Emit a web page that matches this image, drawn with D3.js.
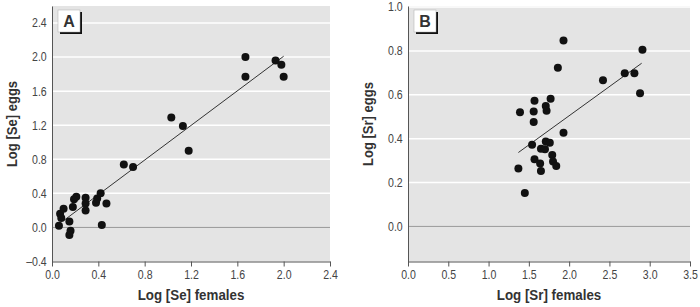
<!DOCTYPE html>
<html>
<head>
<meta charset="utf-8">
<script src="https://cdn.jsdelivr.net/npm/d3@7"></script>
<style>
  body { margin: 0; background: #fff; }
  svg { display: block; }
  .tick text { font-family: "Liberation Sans", Arial, sans-serif; font-size: 12px; fill: #444; }
  .title { font-family: "Liberation Sans", Arial, sans-serif; font-weight: bold; font-size: 14.5px; fill: #333; }
</style>
</head>
<body>
<script>
// panel A: selenium
var seFemales = [0.06, 0.07, 0.08, 0.10, 0.15, 0.16, 0.15, 0.18, 0.19, 0.21, 0.29, 0.29, 0.29, 0.38, 0.39, 0.42, 0.43, 0.47, 0.62, 0.70, 1.03, 1.13, 1.18, 1.67, 1.67, 1.93, 1.98, 2.00];
var seEggs    = [0.02, 0.16, 0.11, 0.22, 0.07, -0.04, -0.09, 0.24, 0.33, 0.36, 0.35, 0.28, 0.20, 0.29, 0.34, 0.40, 0.03, 0.28, 0.74, 0.71, 1.29, 1.19, 0.90, 2.00, 1.77, 1.96, 1.91, 1.77];
var seFitX = [0.10, 2.00];
var seFitY = [0.08, 2.01];
var seXTicks = [0.0, 0.4, 0.8, 1.2, 1.6, 2.0, 2.4];
var seYTicks = [-0.4, 0.0, 0.4, 0.8, 1.2, 1.6, 2.0, 2.4];

// panel B: strontium
var srFemales = [1.93, 1.86, 2.91, 2.88, 2.69, 2.81, 2.42, 1.77, 1.57, 1.56, 1.39, 1.71, 1.72, 1.56, 1.93, 1.54, 1.71, 1.76, 1.65, 1.70, 1.79, 1.80, 1.84, 1.57, 1.64, 1.65, 1.37, 1.45];
var srEggs    = [0.848, 0.723, 0.805, 0.607, 0.698, 0.698, 0.666, 0.582, 0.573, 0.524, 0.520, 0.549, 0.527, 0.476, 0.427, 0.372, 0.387, 0.381, 0.354, 0.352, 0.326, 0.296, 0.276, 0.306, 0.287, 0.253, 0.264, 0.152];
var srFitX = [1.37, 2.90];
var srFitY = [0.337, 0.744];
var srXTicks = [0.0, 0.5, 1.0, 1.5, 2.0, 2.5, 3.0, 3.5];
var srYTicks = [0.0, 0.2, 0.4, 0.6, 0.8, 1.0];

var width = 700;
var height = 307;
var squeeze = 0.88;   // fake a narrow face

var svg = d3.select("body")
    .append("svg")
        .attr("width", width)
        .attr("height", height);

function panel(opt) {
    var x = d3.scaleLinear().domain(opt.xDomain).range(opt.xRange);
    var y = d3.scaleLinear().domain(opt.yDomain).range(opt.yRange);
    var g = svg.append("g");

    g.append("rect")
        .attr("x", opt.xRange[0])
        .attr("y", opt.yRange[1])
        .attr("width", opt.xRange[1] - opt.xRange[0])
        .attr("height", opt.yRange[0] - opt.yRange[1])
        .attr("fill", "#e4e4e4");

    // white gridlines
    g.selectAll(".grid").data(opt.yTicks.filter(function(d) { return d !== 0 && d !== opt.yDomain[0]; }))
        .enter().append("line")
            .attr("x1", opt.xRange[0])
            .attr("x2", opt.xRange[1])
            .attr("y1", function(d) { return y(d); })
            .attr("y2", function(d) { return y(d); })
            .attr("stroke", "#fff")
            .attr("stroke-width", 1.5);

    // zero line
    g.append("line")
        .attr("x1", opt.xRange[0])
        .attr("x2", opt.xRange[1])
        .attr("y1", y(0))
        .attr("y2", y(0))
        .attr("stroke", "#999")
        .attr("stroke-width", 1);

    // fit line
    g.append("line")
        .attr("x1", x(opt.fitX[0]))
        .attr("y1", y(opt.fitY[0]))
        .attr("x2", x(opt.fitX[1]))
        .attr("y2", y(opt.fitY[1]))
        .attr("stroke", "#333")
        .attr("stroke-width", 1);

    g.selectAll(".dot").data(opt.xs)
        .enter().append("circle")
            .attr("cx", function(d) { return x(d); })
            .attr("cy", function(d, i) { return y(opt.ys[i]); })
            .attr("r", 4)
            .attr("fill", "#111");

    var bottomAxis = d3.axisBottom(x)
        .tickValues(opt.xTicks)
        .tickFormat(d3.format(".1f"))
        .tickSize(5)
        .tickSizeOuter(0)
        .tickPadding(4);
    var xa = g.append("g")
        .attr("transform", "translate(0," + opt.yRange[0] + ")")
        .call(bottomAxis);
    xa.selectAll("line, path").attr("stroke", "#555");
    xa.selectAll("text").attr("transform", "scale(" + squeeze + ",1)");

    var leftAxis = d3.axisLeft(y)
        .tickValues(opt.yTicks)
        .tickFormat(function(d) { return d < 0 ? "\u2013" + d3.format(".1f")(-d) : d3.format(".1f")(d); })
        .tickSize(0)
        .tickPadding(6);
    var ya = g.append("g")
        .attr("transform", "translate(" + opt.xRange[0] + ",0)")
        .call(leftAxis);
    ya.select(".domain").attr("stroke", "#555");
    ya.selectAll("text").attr("transform", "scale(" + squeeze + ",1)");

    // panel letter box
    var bx = opt.xRange[0] + 6, by = 10;
    g.append("rect")
        .attr("x", bx + 2).attr("y", by + 2)
        .attr("width", 22).attr("height", 22)
        .attr("fill", "#111");
    g.append("rect")
        .attr("x", bx).attr("y", by)
        .attr("width", 22).attr("height", 22)
        .attr("fill", "#fff")
        .attr("stroke", "#aaa")
        .attr("stroke-width", 0.5);
    g.append("text")
        .attr("class", "title")
        .attr("x", bx + 11)
        .attr("y", by + 17)
        .attr("text-anchor", "middle")
        .style("font-size", "16px")
        .text(opt.letter);

    g.append("text")
        .attr("class", "title")
        .attr("transform", "translate(" + (opt.xRange[0] + opt.xRange[1]) / 2 + ",300) scale(0.92,1)")
        .attr("text-anchor", "middle")
        .text(opt.xLabel);

    g.append("text")
        .attr("class", "title")
        .attr("transform", "translate(" + opt.yLabelX + ",124) rotate(-90) scale(0.9,1)")
        .attr("text-anchor", "middle")
        .text(opt.yLabel);
}

panel({
    xs: seFemales, ys: seEggs, fitX: seFitX, fitY: seFitY,
    xDomain: [0, 2.4], xRange: [52, 330],
    yDomain: [-0.4, 2.6], yRange: [261.5, 6],
    xTicks: seXTicks, yTicks: seYTicks,
    letter: "A", xLabel: "Log [Se] females", yLabel: "Log [Se] eggs", yLabelX: 17
});

panel({
    xs: srFemales, ys: srEggs, fitX: srFitX, fitY: srFitY,
    xDomain: [0, 3.5], xRange: [408, 690],
    yDomain: [-0.16, 1.005], yRange: [261.5, 6],
    xTicks: srXTicks, yTicks: srYTicks,
    letter: "B", xLabel: "Log [Sr] females", yLabel: "Log [Sr] eggs", yLabelX: 373
});
</script>
</body>
</html>
